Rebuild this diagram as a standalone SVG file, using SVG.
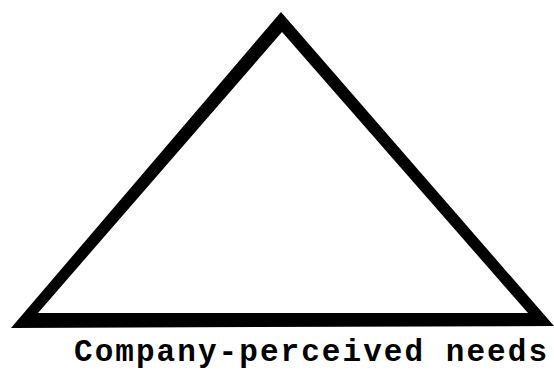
<svg xmlns="http://www.w3.org/2000/svg" width="554" height="371" viewBox="0 0 554 371">
<style>
.tri{fill:#000;fill-rule:evenodd}
.lbl{font-family:"Liberation Mono","Courier New",monospace;font-weight:bold;font-size:31px;fill:#000}
</style>
<rect width="554" height="371" fill="#fff"/>
<g id="triangle">
<path class="tri" d="M281,12 L11,328 L554,326 Z M282,32 L528,313 L38,313 Z"/>
</g>
<g id="label">
<text class="lbl" x="74" y="361" textLength="473" lengthAdjust="spacing">Company-perceived needs</text>
</g>
</svg>
